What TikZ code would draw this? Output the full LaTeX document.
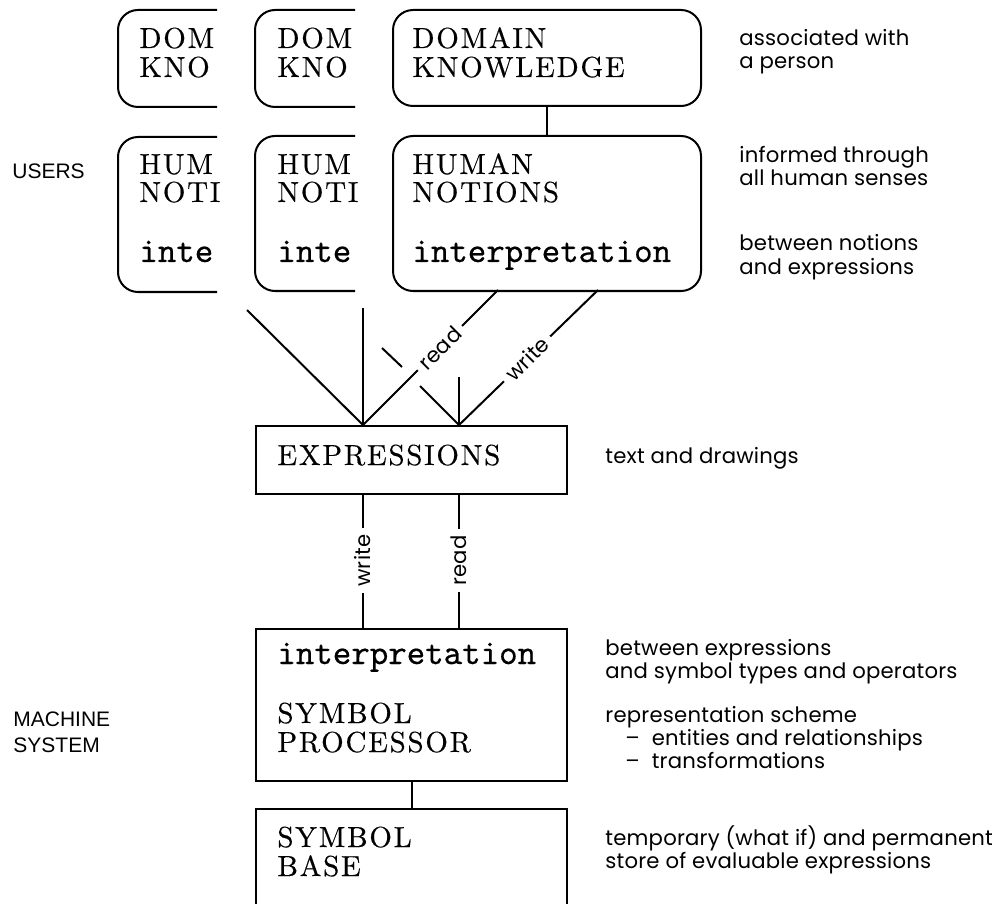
\documentclass[tikz,border=0pt]{standalone}
\usepackage{fontspec}
\newfontfamily\notefam{Poppins}[LetterSpace=1]
\newfontfamily\sidefam{Liberation Sans}
\newfontfamily\capfam{lmroman10-regular.otf}[LetterSpace=6, FakeBold=0.4]
\newfontfamily\lowfam{lmmono10-regular.otf}[FakeBold=0.5]
\newcommand\capfont{\capfam\fontsize{14.5}{14.5}\selectfont}
\newcommand\lowfont{\lowfam\fontsize{17.6}{17.6}\selectfont}
\newcommand\notefont{\notefam\fontsize{10.6}{11.5}\selectfont}
\newcommand\sidefont{\sidefam\fontsize{10.5}{12}\selectfont}
\tikzset{
  conn/.style={line width=1pt},
  sbox/.style={draw, line width=1pt, inner sep=0pt, anchor=north west},
  rbox/.style={sbox, rounded corners=10pt},
  capt/.style={anchor=base west, inner sep=0pt, font=\capfont},
  lowt/.style={anchor=base west, inner sep=0pt, font=\lowfont},
  note/.style={anchor=base west, inner sep=0pt, font=\notefont},
  side/.style={anchor=base west, inner sep=0pt, font=\sidefont},
  lbl/.style={font=\notefont, fill=white, inner sep=3pt},
}
\begin{document}
\begin{tikzpicture}[x=0.5pt,y=-0.5pt]
\useasboundingbox (0,0) rectangle (999,903);
\clip (0,0) rectangle (999,903);
\fill[white] (0,0) rectangle (999,903);

% truncated back cards (person 1 and 2)
\draw[conn, rounded corners=10pt] (217,10) -- (118,10) -- (118,107) -- (217,107);
\draw[conn, rounded corners=10pt] (217,137) -- (118,137) -- (118,292) -- (217,292);
\draw[conn, rounded corners=10pt] (355,10) -- (255,10) -- (255,107) -- (355,107);
\draw[conn, rounded corners=10pt] (355,136) -- (255,136) -- (255,291) -- (355,291);

\node[capt] (k1a) at (139,48) {DOM};
\node[capt] (k1b) at (139,77) {KNO};
\node[capt] (h1a) at (139,174) {HUM};
\node[capt] (h1b) at (139,202) {NOTI};
\node[lowt] (h1c) at (139,262) {inte};

\node[capt] (k2a) at (277,48) {DOM};
\node[capt] (k2b) at (277,77) {KNO};
\node[capt] (h2a) at (277,174) {HUM};
\node[capt] (h2b) at (277,202) {NOTI};
\node[lowt] (h2c) at (277,262) {inte};

% front card
\node[rbox, minimum width=154pt, minimum height=48pt] (dk) at (392,9) {};
\node[rbox, minimum width=154pt, minimum height=77.5pt] (hn) at (392,135) {};
\node[capt] (k3a) at (412,48) {DOMAIN};
\node[capt] (k3b) at (412,77) {KNOWLEDGE};
\node[capt] (h3a) at (412,174) {HUMAN};
\node[capt] (h3b) at (412,202) {NOTIONS};
\node[lowt] (h3c) at (412,262) {interpretation};
\draw[conn] (dk) -- (hn);

% machine boxes
\node[sbox, minimum width=155.5pt, minimum height=34pt] (ex) at (255,425) {};
\node[sbox, minimum width=155.5pt, minimum height=76pt] (sp) at (255,628) {};
\node[sbox, minimum width=155.5pt, minimum height=60pt] (sb) at (255,808) {};
\node[capt] (ext) at (277,465) {EXPRESSIONS};
\node[lowt] (spi) at (277,664) {interpretation};
\node[capt] (spa) at (277,723) {SYMBOL};
\node[capt] (spb) at (277,752) {PROCESSOR};
\node[capt] (sba) at (277,847) {SYMBOL};
\node[capt] (sbb) at (277,876) {BASE};
\draw[conn] (sp) -- (sb);

% connector points
\coordinate (p1) at (363,425);
\coordinate (p2) at (459,425);
\coordinate (q1) at (363,493);
\coordinate (q2) at (459,493);
\coordinate (s1) at (363,628);
\coordinate (s2) at (459,628);
\coordinate (a1) at (247,310);
\coordinate (a2) at (363,308);
\coordinate (r1) at (498,290);
\coordinate (w1) at (598,290);
\coordinate (b1) at (382,348);
\coordinate (b2) at (402,367);
\coordinate (b3) at (420,386);
\coordinate (c1) at (459,377);

\draw[conn] (a1) -- (p1);
\draw[conn] (a2) -- (p1);
\draw[conn] (r1) -- node[lbl, rotate=45, pos=0.43] (rd1) {read} (p1);
\draw[conn] (w1) -- node[lbl, rotate=45, pos=0.51] (wr1) {write} (p2);
\draw[conn] (b1) -- (b2);
\draw[conn] (b3) -- (p2);
\draw[conn] (c1) -- (p2);
\draw[conn] (q1) -- node[lbl, rotate=90] (wr2) {write} (s1);
\draw[conn] (q2) -- node[lbl, rotate=90] (rd2) {read} (s2);

% side labels
\node[side] (users) at (12,179) {USERS};
\node[side] (mach) at (13,726) {MACHINE};
\node[side] (syst) at (13,752) {SYSTEM};

% notes
\node[note] (n1a) at (739,46) {associated with};
\node[note] (n1b) at (739,69) {a person};
\node[note] (n2a) at (739,163) {informed through};
\node[note] (n2b) at (739,186) {all human senses};
\node[note] (n3a) at (739,251) {between notions};
\node[note] (n3b) at (739,275) {and expressions};
\node[note] (n4) at (605,463) {text and drawings};
\node[note] (n5a) at (605,655) {between expressions};
\node[note] (n5b) at (605,678) {and symbol types and operators};
\node[note] (n6a) at (605,722) {representation scheme};
\node[note] (n6b) at (625,745) {–\hspace{6pt}entities and relationships};
\node[note] (n6c) at (625,768) {–\hspace{6pt}transformations};
\node[note] (n7a) at (605,845) {temporary (what if) and permanent};
\node[note] (n7b) at (605,868) {store of evaluable expressions};
\end{tikzpicture}
\end{document}
